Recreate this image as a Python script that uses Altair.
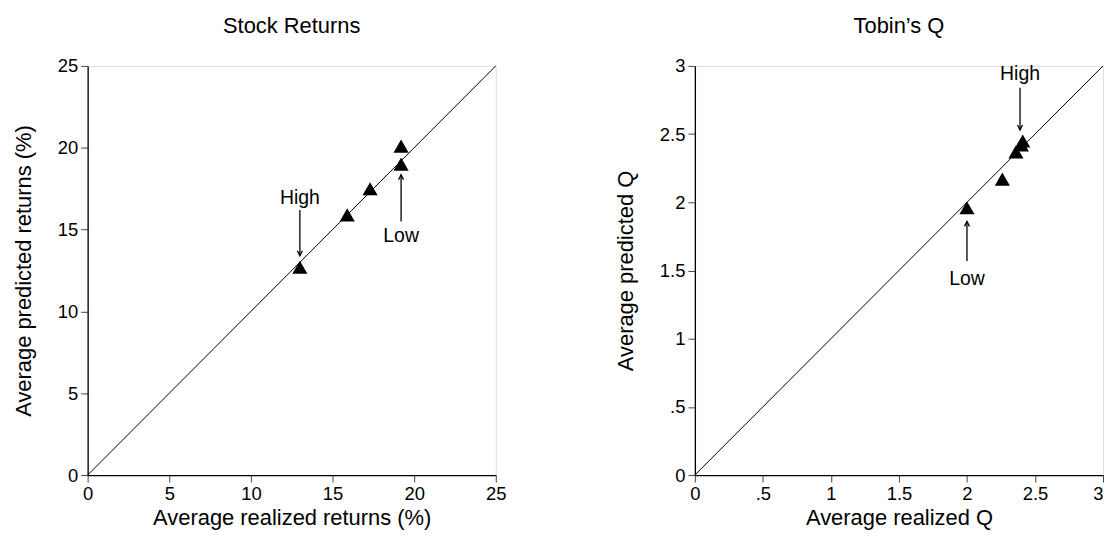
import altair as alt
import pandas as pd

# Stock returns panel (realized, predicted) in %
sr_real = [13.0, 15.9, 17.3, 19.2, 19.2]
sr_pred = [12.7, 15.9, 17.5, 19.0, 20.1]
# Tobin's Q panel
q_real = [2.00, 2.26, 2.36, 2.40, 2.41]
q_pred = [1.96, 2.17, 2.37, 2.42, 2.45]

# annotations: label, x, label_y, arrow_from_y, arrow_to_y, direction
sr_ann_label = ["High", "Low"]
sr_ann_x = [13.0, 19.2]
sr_ann_ly = [16.9, 14.6]
sr_ann_y1 = [16.2, 15.5]
sr_ann_y2 = [13.4, 18.35]
sr_ann_dir = ["down", "up"]

q_ann_label = ["High", "Low"]
q_ann_x = [2.39, 2.00]
q_ann_ly = [2.94, 1.44]
q_ann_y1 = [2.84, 1.57]
q_ann_y2 = [2.53, 1.86]
q_ann_dir = ["down", "up"]

FONT = "Liberation Sans"
DOWN = "M -0.5 -1 L 0 0 L 0.5 -1"
UP = "M -0.5 1 L 0 0 L 0.5 1"


def panel(title, real, pred, dmax, ticks, xtitle, ytitle, lab, ax, ly, y1, y2, dirs, label_expr, last_right):
    pts = pd.DataFrame({"x": real, "y": pred})
    diag = pd.DataFrame({"x": [0, dmax], "y": [0, dmax]})
    ann = pd.DataFrame({"label": lab, "x": ax, "ly": ly, "y1": y1, "y2": y2, "dir": dirs})

    axis_kw = dict(values=ticks, grid=False, tickSize=7, labelFontSize=18.5, titleFontSize=22,
                   labelFont=FONT, titleFont=FONT, titleFontWeight="normal", labelColor="black",
                   titleColor="black", domainColor="black", domainWidth=1.3, tickColor="#444",
                   labelPadding=3, labelExpr=label_expr, labelFlush=False)
    x_extra = {}
    if last_right:
        x_extra["labelAlign"] = {"condition": {"test": f"datum.value == {dmax}", "value": "right"},
                                 "value": "center"}
    xs = alt.Scale(domain=[0, dmax], nice=False, zero=True)
    ys = alt.Scale(domain=[0, dmax], nice=False, zero=True)
    X = alt.X("x:Q", scale=xs, axis=alt.Axis(title=xtitle, titlePadding=4, **axis_kw, **x_extra))
    Y = alt.Y("y:Q", scale=ys, axis=alt.Axis(title=ytitle, titlePadding=22, labelAngle=0, **axis_kw))

    line = alt.Chart(diag).mark_line(color="black", strokeWidth=1).encode(x=X, y=Y)
    tri = alt.Chart(pts).mark_point(shape="triangle-up", filled=True, color="black", opacity=1, size=230).encode(
        x="x:Q", y="y:Q")
    shaft = alt.Chart(ann).mark_rule(color="black", strokeWidth=1.3).encode(
        x="x:Q", y="y1:Q", y2="y2:Q")
    head_d = alt.Chart(ann).transform_filter("datum.dir == 'down'").mark_point(
        shape=DOWN, size=100, color="black", strokeWidth=1.3, filled=False, opacity=1).encode(x="x:Q", y="y2:Q")
    head_u = alt.Chart(ann).transform_filter("datum.dir == 'up'").mark_point(
        shape=UP, size=100, color="black", strokeWidth=1.3, filled=False, opacity=1).encode(x="x:Q", y="y2:Q")
    txt = alt.Chart(ann).mark_text(font=FONT, fontSize=19.5, color="black", baseline="middle").encode(
        x="x:Q", y=alt.Y("ly:Q"), text="label:N")
    return alt.layer(line, tri, shaft, head_d, head_u, txt).properties(
        width=410, height=411,
        title=alt.TitleParams(title, font=FONT, fontSize=22, fontWeight="normal", color="black", offset=19))


left = panel("Stock Returns", sr_real, sr_pred, 25, [0, 5, 10, 15, 20, 25],
             "Average realized returns (%)", "Average predicted returns (%)",
             sr_ann_label, sr_ann_x, sr_ann_ly, sr_ann_y1, sr_ann_y2, sr_ann_dir,
             "format(datum.value, '~g')", False)
right = panel("Tobin\u2019s Q", q_real, q_pred, 3, [0, 0.5, 1, 1.5, 2, 2.5, 3],
              "Average realized Q", "Average predicted Q",
              q_ann_label, q_ann_x, q_ann_ly, q_ann_y1, q_ann_y2, q_ann_dir,
              "replace(format(datum.value, '~g'), '0.', '.')", True)

chart = alt.hconcat(left, right, spacing=107).properties(
    padding={"left": 3, "top": 5, "right": 0, "bottom": 0}
).configure_view(stroke="#333", strokeWidth=1.2).configure(background="white")

chart.save("out.html", embed_options={"renderer": "svg", "actions": False})
